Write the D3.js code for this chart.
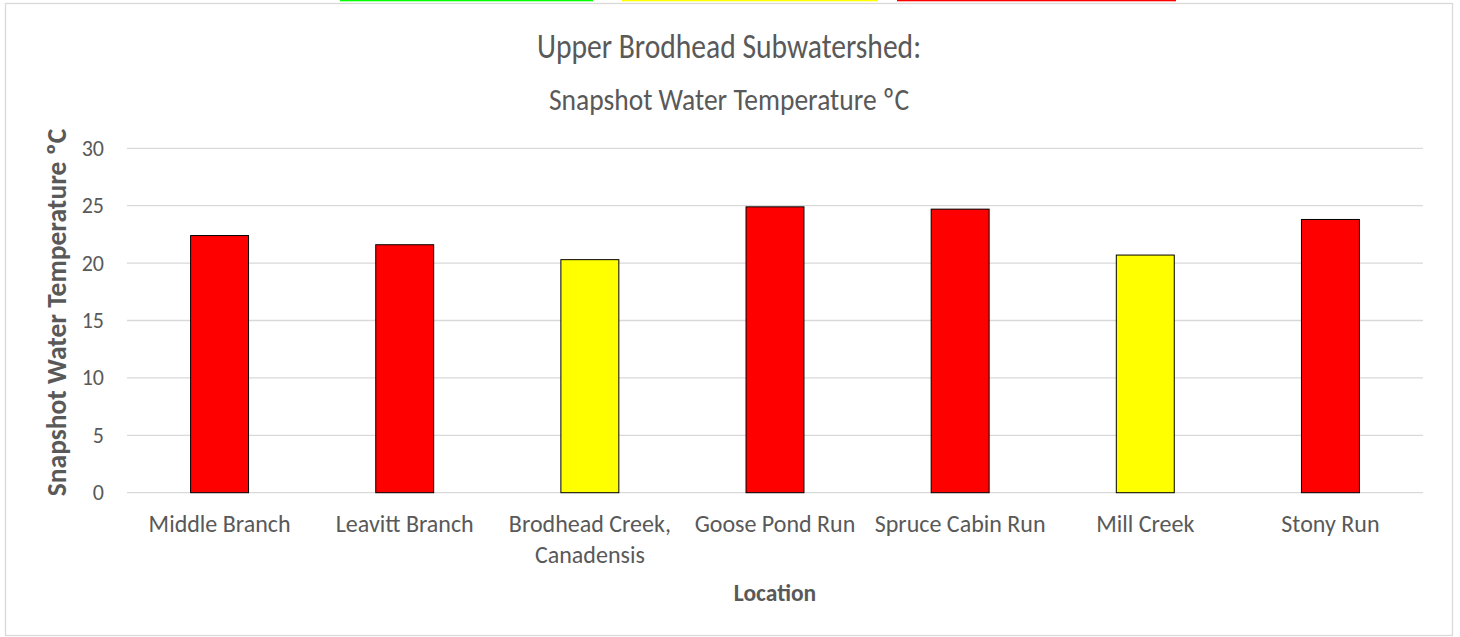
<!DOCTYPE html>
<html>
<head>
<meta charset="utf-8">
<script src="https://cdn.jsdelivr.net/npm/d3@7"></script>
<style>
  html, body { margin: 0; padding: 0; background: #fff; }
  svg { display: block; }
</style>
</head>
<body>
<script>
const categories = ["Middle Branch", "Leavitt Branch", "Brodhead Creek, Canadensis", "Goose Pond Run", "Spruce Cabin Run", "Mill Creek", "Stony Run"];
const categoryLines = [["Middle Branch"], ["Leavitt Branch"], ["Brodhead Creek,", "Canadensis"], ["Goose Pond Run"], ["Spruce Cabin Run"], ["Mill Creek"], ["Stony Run"]];
const temperatures = [22.4, 21.6, 20.3, 24.9, 24.7, 20.7, 23.8];
const barColors = ["#FF0000", "#FF0000", "#FFFF00", "#FF0000", "#FF0000", "#FFFF00", "#FF0000"];
const yTicks = [0, 5, 10, 15, 20, 25, 30];
const titleLines = ["Upper Brodhead Subwatershed:", "Snapshot Water Temperature ºC"];
const yAxisTitle = "Snapshot  Water Temperature ºC";
const xAxisTitle = "Location";
const legendStripColors = ["#00FF00", "#FFFF00", "#FF0000"];
const legendStripX = [[340, 593], [622, 878], [897, 1176]];

const W = 1460, H = 637;
const font = "Carlito, Calibri, 'Open Sans', 'Liberation Sans', sans-serif";
const textColor = "#595959";

const svg = d3.select("body").append("svg").attr("width", W).attr("height", H);

function stretchedText(parent, x, y, k, str, size, weight, anchor) {
  const g = parent.append("g").attr("transform", `translate(${x},${y}) scale(1,${k})`);
  return g.append("text").attr("x", 0).attr("y", 0)
    .attr("text-anchor", anchor || "middle")
    .attr("font-family", font).attr("font-size", size)
    .attr("font-weight", weight || "normal").attr("fill", textColor).text(str);
}

// top color strips (cut off in reference)
svg.selectAll("rect.strip").data(legendStripColors).enter().append("rect")
  .attr("class", "strip")
  .attr("x", (d, i) => legendStripX[i][0])
  .attr("width", (d, i) => legendStripX[i][1] - legendStripX[i][0])
  .attr("y", -2).attr("height", 3.3)
  .attr("fill", d => d);

// chart border
svg.append("rect").attr("x", 5.5).attr("y", 3.5).attr("width", 1447).attr("height", 632)
  .attr("fill", "none").attr("stroke", "#d9d9d9").attr("stroke-width", 1.3);

const plot = { left: 127, right: 1423, top: 148.3, bottom: 492.7 };

const x = d3.scaleBand().domain(categories).range([plot.left, plot.right]).paddingInner(0).paddingOuter(0);
const y = d3.scaleLinear().domain([0, 30]).range([plot.bottom, plot.top]);

// gridlines
svg.append("g").selectAll("line").data(yTicks).enter().append("line")
  .attr("x1", plot.left).attr("x2", plot.right)
  .attr("y1", d => y(d)).attr("y2", d => y(d))
  .attr("stroke", "#d9d9d9").attr("stroke-width", 1.3);

// y tick labels
const tickG = svg.append("g");
yTicks.forEach(t => {
  stretchedText(tickG, 104, y(t) + 7.5, 1.0, t, 22, "normal", "end");
});

// bars
const barW = x.bandwidth() * 0.313;
svg.append("g").selectAll("rect").data(categories).enter().append("rect")
  .attr("x", d => x(d) + (x.bandwidth() - barW) / 2)
  .attr("width", barW)
  .attr("y", (d, i) => y(temperatures[i]))
  .attr("height", (d, i) => y(0) - y(temperatures[i]))
  .attr("fill", (d, i) => barColors[i])
  .attr("stroke", "#000").attr("stroke-width", 1);

// category labels
const catG = svg.append("g");
categories.forEach((c, i) => {
  categoryLines[i].forEach((ln, j) => {
    stretchedText(catG, x(c) + x.bandwidth() / 2, 532 + j * 30.5, 1.0, ln, 24);
  });
});

// x axis title
stretchedText(svg, (plot.left + plot.right) / 2, 601, 1.0, xAxisTitle, 23.5, "bold");

// y axis title
svg.append("text").attr("transform", `translate(66, 312.5) rotate(-90)`)
  .attr("text-anchor", "middle").attr("font-family", font).attr("font-size", 27.5)
  .attr("font-weight", "bold").attr("fill", textColor).text(yAxisTitle);

// title
stretchedText(svg, 729, 58, 1.15, titleLines[0], 29.6);
stretchedText(svg, 729, 110, 1.15, titleLines[1], 27.5);
</script>
</body>
</html>
